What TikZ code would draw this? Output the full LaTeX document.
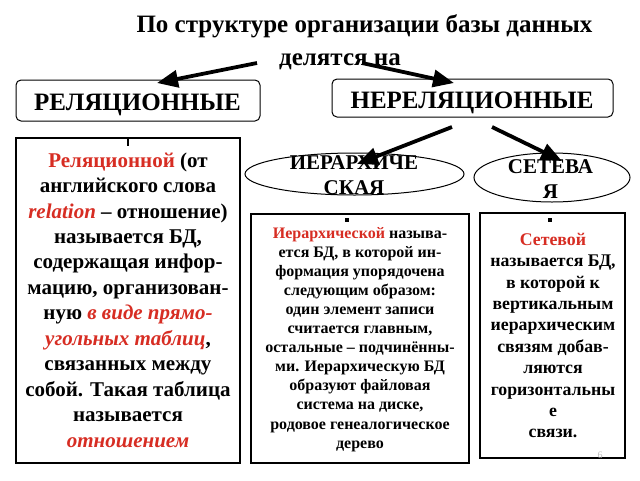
\documentclass[tikz,border=0pt]{standalone}
\usepackage{fontspec}
\setmainfont{Liberation Serif}
\usetikzlibrary{arrows.meta,shapes.geometric}
\definecolor{redt}{RGB}{215,45,35}
\begin{document}
\begin{tikzpicture}[x=1pt,y=-1pt,
  arr/.style={line width=3.8pt,-{Triangle[length=21pt,width=17pt]}},
  hdrbox/.style={draw,rounded corners=5pt,line width=1pt,inner sep=0pt},
  hdrtext/.style={anchor=base,inner sep=0pt,font=\bfseries\fontsize{25}{25}\selectfont},
  txtbox/.style={draw,line width=1.2pt,inner sep=0pt},
  oval/.style={draw,ellipse,line width=1pt,inner sep=0pt},
  ovaltext/.style={align=center,inner sep=0pt,font=\bfseries\fontsize{21}{25}\selectfont},
  body/.style={align=center,inner sep=0pt},
  dot/.style={fill=black,inner sep=0pt,minimum size=3.5pt}
]
\useasboundingbox (0,0) rectangle (640,480);
\fill[white] (0,0) rectangle (640,480);

% title
\node[hdrtext] (t1) at (364.5,32) {По структуре организации базы данных};
\node[hdrtext] (t2) at (340,65) {делятся на};

% header boxes
\node[hdrbox,minimum width=244pt,minimum height=41pt] (rel) at (138,100.5) {};
\node[hdrtext] (reltitle) at (137.5,110) {РЕЛЯЦИОННЫЕ};
\node[hdrbox,minimum width=281pt,minimum height=38pt] (nrel) at (472.5,98) {};
\node[hdrtext] (nreltitle) at (472,108) {НЕРЕЛЯЦИОННЫЕ};

% arrows from title
\coordinate (a1s) at (257,63);
\coordinate (a1e) at (157,83);
\coordinate (a2s) at (362,63);
\coordinate (a2e) at (454,83);
\draw[arr] (a1s) -- (a1e);
\draw[arr] (a2s) -- (a2e);

% left text box
\node[txtbox,minimum width=224pt,minimum height=325pt] (relbox) at (128,300.5) {};
\coordinate (tick) at (128,146);
\draw[line width=1.3pt] (relbox.north -| tick) -- (tick);
\node[body,font=\bfseries\fontsize{21}{25.45}\selectfont] (reltext) at (128,300) {%
{\color{redt}Реляционной} (от\\
английского слова\\
{\color{redt}\itshape relation} – отношение)\\
называется БД,\\
содержащая инфор-\\
мацию, организован-\\
ную {\color{redt}\itshape в виде прямо-}\\
{\color{redt}\itshape угольных таблиц},\\
связанных между\\
собой. Такая таблица\\
называется\\
{\color{redt}\itshape отношением}};

% ellipses
\node[oval,minimum width=219pt,minimum height=42pt] (hier) at (354.5,174) {};
\node[ovaltext] (hiertext) at (354,175.6) {ИЕРАРХИЧЕ\\СКАЯ};
\node[oval,minimum width=156pt,minimum height=49pt] (net) at (552,177.5) {};
\node[ovaltext] (nettext) at (550.5,178.6) {СЕТЕВА\\Я};

% arrows from НЕРЕЛЯЦИОННЫЕ
\coordinate (b1s) at (452,127);
\coordinate (b1e) at (357,164);
\coordinate (b2s) at (492,127);
\coordinate (b2e) at (562,161);
\draw[arr] (b1s) -- (b1e);
\draw[arr] (b2s) -- (b2e);

% middle box
\node[txtbox,minimum width=218pt,minimum height=249pt] (hierbox) at (360,338.5) {};
\node[dot] (hdot) at (347,220) {};
\node[body,font=\bfseries\fontsize{16}{19.1}\selectfont] (hiertxt) at (360,339.3) {%
{\color{redt}Иерархической} называ-\\
ется БД, в которой ин-\\
формация упорядочена\\
следующим образом:\\
один элемент записи\\
считается главным,\\
остальные – подчинённы-\\
ми. Иерархическую БД\\
образуют файловая\\
система на диске,\\
родовое генеалогическое\\
дерево};

% right box
\node[txtbox,minimum width=145pt,minimum height=245pt] (netbox) at (552.5,335.5) {};
\node[dot] (ndot) at (550,220) {};
\node[body,font=\bfseries\fontsize{17.8}{21.4}\selectfont] (nettxt) at (553,335.6) {%
{\color{redt}Сетевой}\\
называется БД,\\
в которой к\\
вертикальным\\
иерархическим\\
связям добав-\\
ляются\\
горизонтальны\\
е\\
связи.};

% page number
\node[font=\fontsize{10}{12}\selectfont,text=gray!50,inner sep=0pt] (pg) at (600,455) {6};
\end{tikzpicture}
\end{document}
